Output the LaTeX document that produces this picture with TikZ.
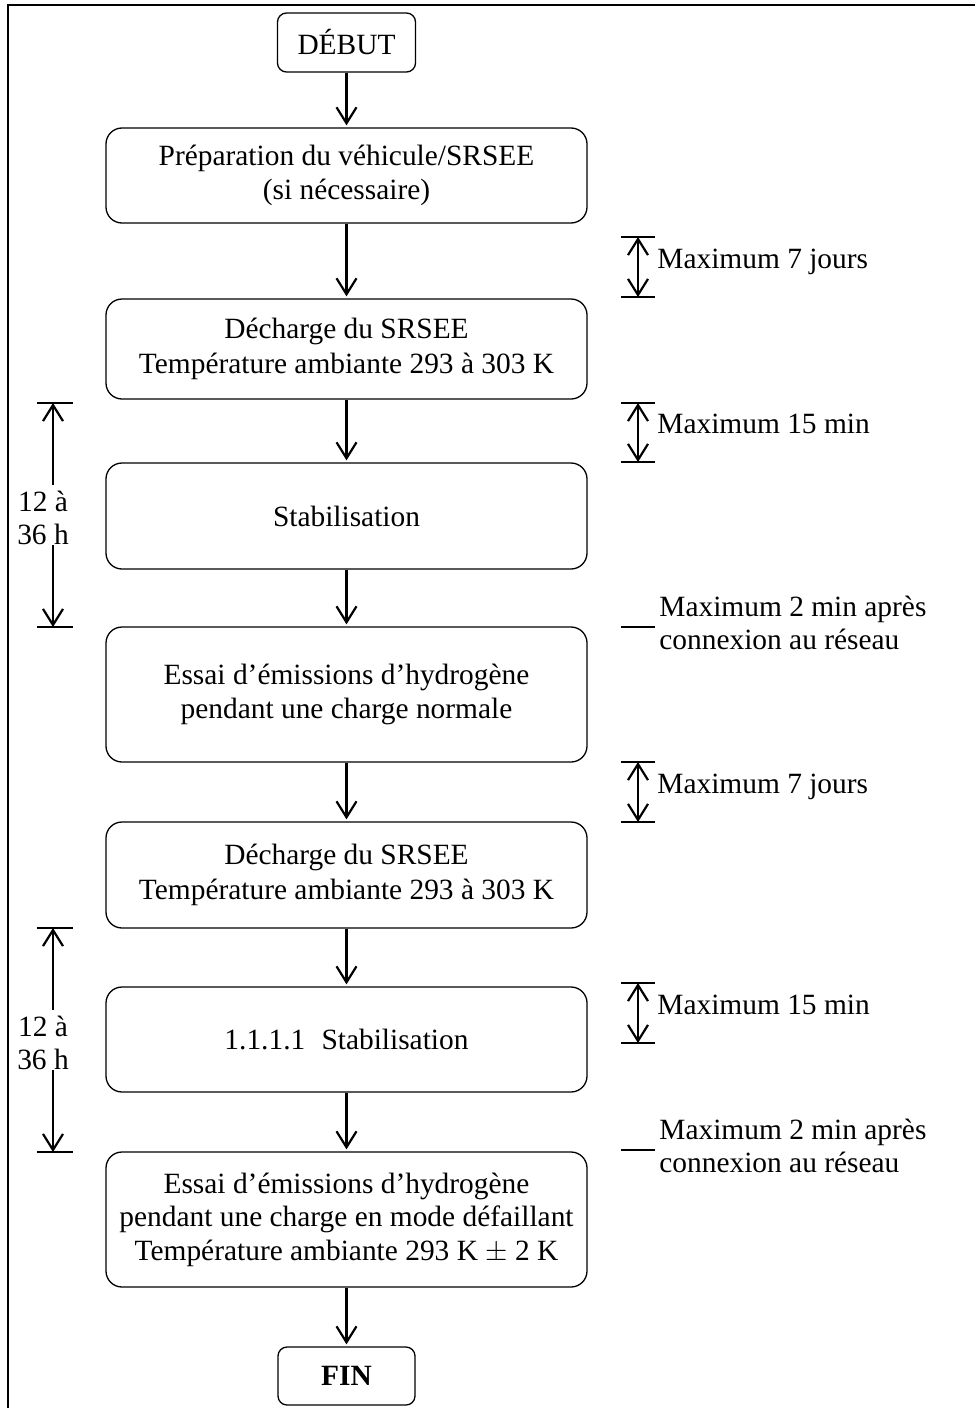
\documentclass[tikz,border=0pt]{standalone}
\usepackage{fontspec}
\setmainfont{Liberation Serif}
\usetikzlibrary{arrows.meta}

\begin{document}
\begin{tikzpicture}[x=0.5pt, y=-0.5pt,
    box/.style={draw, line width=0.65pt, rounded corners=8pt, align=center,
      inner sep=0pt, minimum width=240.5pt, font=\fontsize{14.7}{17.3}\selectfont},
    endbox/.style={box, rounded corners=4.5pt, minimum width=69pt, minimum height=29.5pt},
    flow/.style={line width=1.1pt, -{Straight Barb[length=8pt,width=10pt]}, shorten >=1pt},
    span/.style={line width=1.1pt, -{Straight Barb[length=8pt,width=10pt]}},
    gap/.style={line width=1.1pt, {Straight Barb[length=8pt,width=10pt]}-{Straight Barb[length=8pt,width=10pt]}},
    tick/.style={line width=0.65pt},
    note/.style={anchor=base west, align=left, inner sep=0pt, font=\fontsize{14.7}{16.5}\selectfont}]

  \useasboundingbox (0,0) rectangle (975,1408);
  % outer frame, cut at the right and at the bottom
  \draw[line width=1.2pt] (8,1408) -- (8,5) -- (975,5);

  % the steps
  \node[endbox] (debut) at (346.5,42.5) {DÉBUT};
  \node[box, minimum height=47.5pt] (prep) at (346.5,175.5)
    {Préparation du véhicule/SRSEE\\(si nécessaire)};
  \node[box, minimum height=50pt] (dech1) at (346.5,349)
    {Décharge du SRSEE\\Température ambiante 293 à 303 K};
  \node[box, minimum height=53pt] (stab1) at (346.5,516) {Stabilisation};
  \node[box, minimum height=67.5pt] (essai1) at (346.5,694.5)
    {Essai d’émissions d’hydrogène\\pendant une charge normale};
  \node[box, minimum height=53pt] (dech2) at (346.5,875)
    {Décharge du SRSEE\\Température ambiante 293 à 303 K};
  \node[box, minimum height=52.5pt] (stab2) at (346.5,1039.5)
    {1.1.1.1\hspace{0.55em}Stabilisation};
  \node[box, minimum height=67.5pt, font=\fontsize{14.7}{16.8}\selectfont] (essai2) at (346.5,1219.5)
    {Essai d’émissions d’hydrogène\\pendant une charge en mode défaillant\\Température ambiante 293 K $\pm$ 2 K};
  \node[endbox, minimum width=68.5pt, minimum height=29pt] (fin) at (346.5,1376) {\textbf{FIN}};

  % arrows between steps
  \foreach \a/\b in {debut/prep, prep/dech1, dech1/stab1, stab1/essai1,
                     essai1/dech2, dech2/stab2, stab2/essai2, essai2/fin} {
    \draw[flow] (\a.south) -- (\b.north);
  }

  % delays on the right
  \foreach \ya/\yb/\txt [count=\i] in {237/297/{Maximum 7 jours},
      403/462/{Maximum 15 min}, 762/822/{Maximum 7 jours}, 983/1043/{Maximum 15 min}} {
    \coordinate (gt\i) at (638,\ya);
    \coordinate (gb\i) at (638,\yb);
    \draw[tick] (621,\ya) -- (655,\ya) (621,\yb) -- (655,\yb);
    \draw[gap] (gt\i) -- (gb\i);
    \node[note] (gl\i) at (657,{(\ya+\yb)/2+1}) {\txt};
  }

  % delays after connexion
  \foreach \y [count=\i] in {627, 1150} {
    \draw[tick] (621,\y) -- (655,\y);
    \node[note, anchor=west] (cl\i) at (659,\y-4) {Maximum 2 min après\\connexion au réseau};
  }

  % soak time on the left
  \foreach \ya/\yb [count=\i] in {403/627, 928/1152} {
    \coordinate (ut\i) at (53,\ya);
    \coordinate (ub\i) at (53,\yb);
    \draw[tick] (37,\ya) -- (73,\ya) (37,\yb) -- (73,\yb);
    \node[align=center, inner sep=0pt, font=\fontsize{14.7}{16.5}\selectfont]
      (sl\i) at (43,{(\ya+\yb)/2+2.5}) {12 à\\36 h};
    \draw[span] (sl\i.north -| ut\i) ++(0,-5) -- (ut\i);
    \draw[span] (sl\i.south -| ub\i) -- (ub\i);
  }
\end{tikzpicture}
\end{document}
